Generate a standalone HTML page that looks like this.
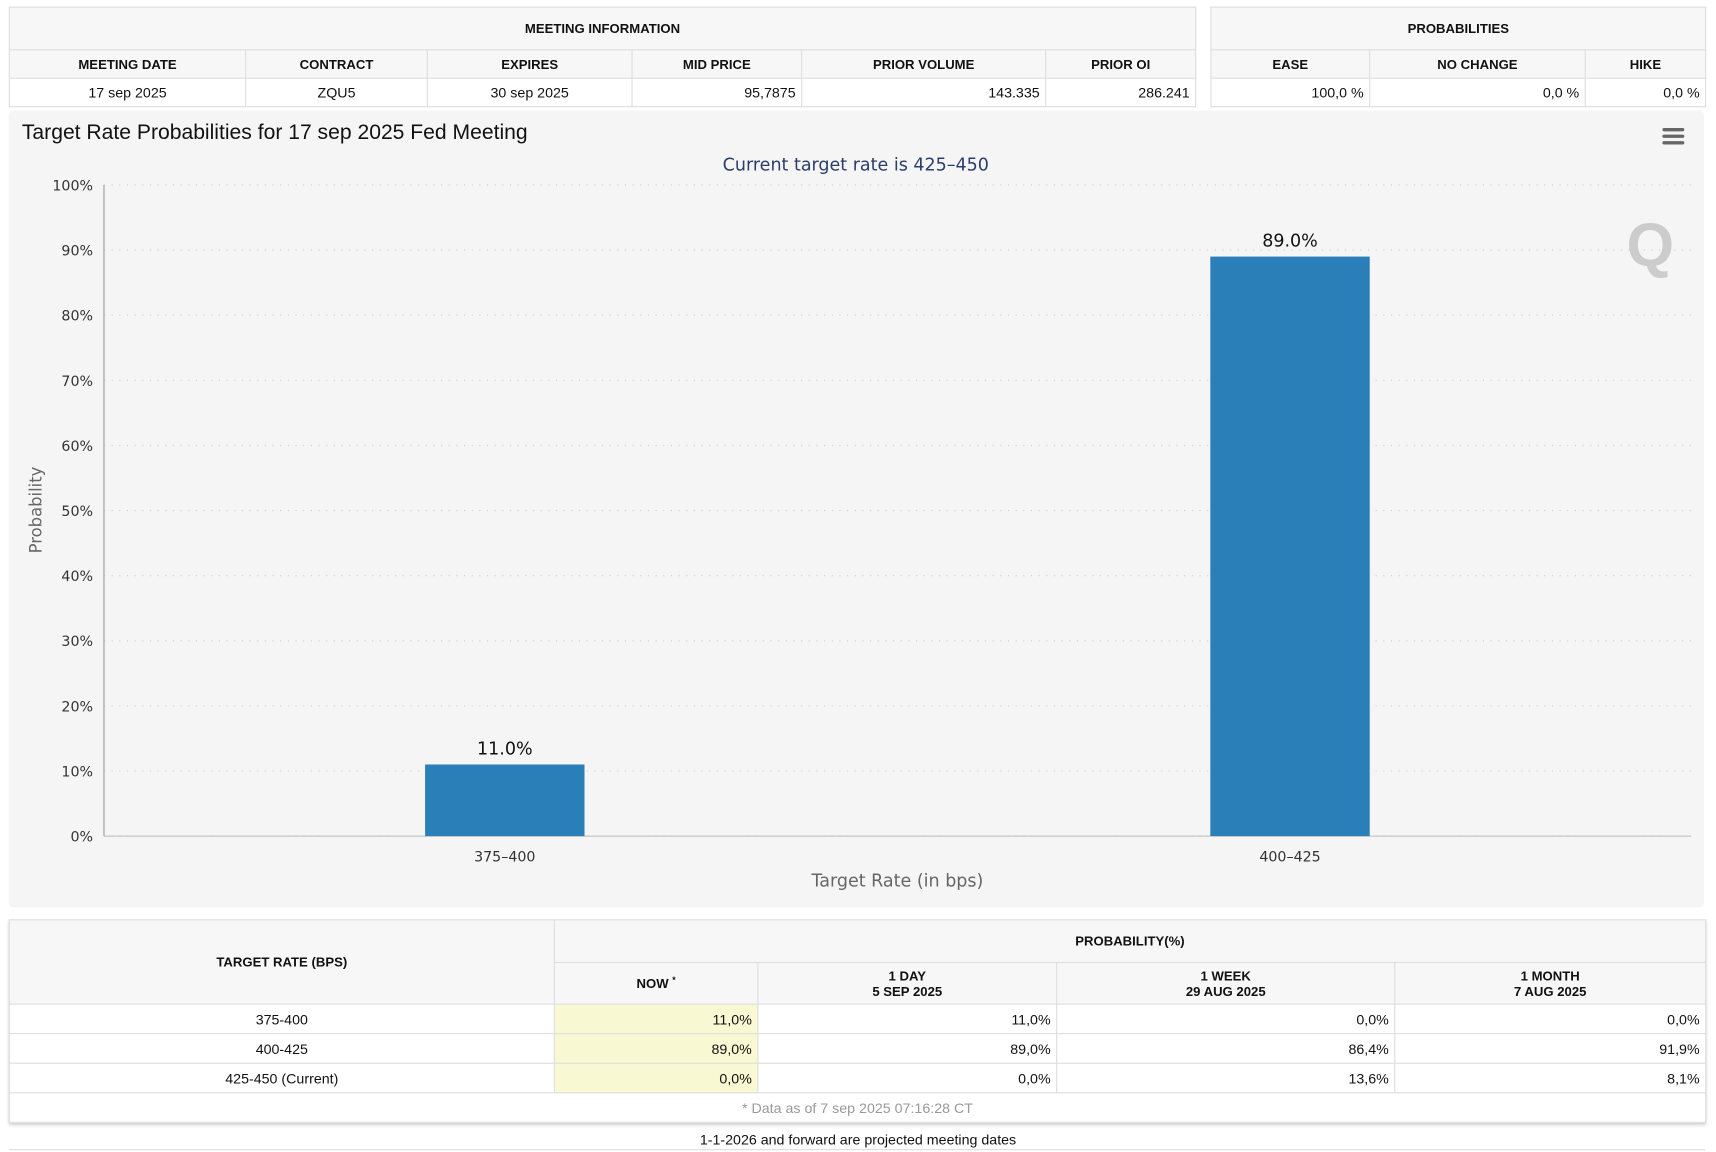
<!DOCTYPE html>
<html><head><meta charset="utf-8"><style>
html,body{margin:0;padding:0;background:#fff;width:1716px;height:1152px;overflow:hidden}
#wrap{position:absolute;left:0;top:0;width:1568px;height:1053px;transform:scale(1.0944);transform-origin:0 0;font-family:"Liberation Sans",Arial,sans-serif;color:#111}
table{border-collapse:collapse;position:absolute;font-size:13px;table-layout:fixed}
td,th{border:1px solid #ddd;padding:0 5px;height:25px}
th{background:#f7f7f7;font-weight:bold;font-size:12px;text-align:center}
.r{text-align:right}.c{text-align:center}
.now{background:#f8f8d2}
#bt td{height:26px}
</style></head><body>
<div id="wrap">
<table style="left:8px;top:6px;width:1085px">
<colgroup><col style="width:216px"><col style="width:166px"><col style="width:187px"><col style="width:155px"><col style="width:223px"><col style="width:137px"></colgroup>
<tr><th colspan="6" style="height:38px">MEETING INFORMATION</th></tr>
<tr><th>MEETING DATE</th><th>CONTRACT</th><th>EXPIRES</th><th>MID PRICE</th><th>PRIOR VOLUME</th><th>PRIOR OI</th></tr>
<tr style="background:#fff"><td class="c">17 sep 2025</td><td class="c">ZQU5</td><td class="c">30 sep 2025</td><td class="r">95,7875</td><td class="r">143.335</td><td class="r">286.241</td></tr>
</table>
<table style="left:1106px;top:6px;width:452px">
<colgroup><col style="width:145px"><col style="width:197px"><col style="width:110px"></colgroup>
<tr><th colspan="3" style="height:38px">PROBABILITIES</th></tr>
<tr><th>EASE</th><th>NO CHANGE</th><th>HIKE</th></tr>
<tr><td class="r">100,0 %</td><td class="r">0,0 %</td><td class="r">0,0 %</td></tr>
</table>
<div style="position:absolute;left:8px;top:101px;width:1549px;height:728px;background:#f5f5f5;border-radius:4px"></div>
<svg id="chart" style="position:absolute;left:0;top:0" width="1568" height="840"></svg>
<table id="bt" style="left:8px;top:840px;width:1550px;box-shadow:0 2px 3px #ccc">
<colgroup><col style="width:498px"><col style="width:186px"><col style="width:273px"><col style="width:309px"><col style="width:284px"></colgroup>
<tr><th rowspan="2">TARGET RATE (BPS)</th><th colspan="4" style="height:38px">PROBABILITY(%)</th></tr>
<tr><th style="height:37px">NOW <sup style="font-size:8px">*</sup></th><th>1 DAY<br>5 SEP 2025</th><th>1 WEEK<br>29 AUG 2025</th><th>1 MONTH<br>7 AUG 2025</th></tr>
<tr><td class="c">375-400</td><td class="r now">11,0%</td><td class="r">11,0%</td><td class="r">0,0%</td><td class="r">0,0%</td></tr>
<tr><td class="c">400-425</td><td class="r now">89,0%</td><td class="r">89,0%</td><td class="r">86,4%</td><td class="r">91,9%</td></tr>
<tr><td class="c">425-450 (Current)</td><td class="r now">0,0%</td><td class="r">0,0%</td><td class="r">13,6%</td><td class="r">8,1%</td></tr>
<tr><td colspan="5" class="c" style="color:#999">* Data as of 7 sep 2025 07:16:28 CT</td></tr>
</table>
<div style="position:absolute;left:0;width:1568px;top:1034px;text-align:center;font-size:13px">1-1-2026 and forward are projected meeting dates</div>
<div style="position:absolute;left:8px;width:1550px;top:1050px;border-top:1px solid #ddd"></div>
</div>
<script>
const categories=["375-400","400-425"];
const values=[11.0,89.0];
const yTicks=[0,10,20,30,40,50,60,70,80,90,100];
const svg=document.getElementById('chart');
const NS='http://www.w3.org/2000/svg';
const L=95,R=1545,T=169,B=764;
const BL=102.5,BR=1537.5;
function y(v){return B-(B-T)*v/100;}
function xc(i){const bw=(BR-BL)/categories.length;return BL+bw*(i+0.5);}
function mk(t,a,txt){const e=document.createElementNS(NS,t);for(const k in a)e.setAttribute(k,a[k]);if(txt!=null)e.textContent=txt;svg.appendChild(e);return e;}
let e;
e=mk('text',{x:20,y:127,'font-size':19.3,fill:'#111','font-family':'Liberation Sans,Arial,sans-serif'},'Target Rate Probabilities for 17 sep 2025 Fed Meeting');

e=mk('text',{x:782,y:156,'font-size':16,fill:'#2b3d6b','text-anchor':'middle','font-family':'DejaVu Sans,sans-serif'},'Current target rate is 425–450');

e=mk('g',{});
for(let k=0;k<3;k++){const r=document.createElementNS(NS,'rect');r.setAttribute('x',1519);r.setAttribute('y',117+k*6);r.setAttribute('width',20);r.setAttribute('height',3);r.setAttribute('rx',1.5);r.setAttribute('fill','#666');e.appendChild(r);}
e=mk('text',{x:1508,y:243,'font-size':56,'font-weight':'bold',fill:'#bbb','text-anchor':'middle','font-family':'Liberation Sans,sans-serif',opacity:0.7},'Q');

yTicks.forEach(t=>{
 e=mk('line',{x1:L,x2:R,y1:y(t),y2:y(t),stroke:'#ccc','stroke-dasharray':'1,6'});
 
 e=mk('text',{x:85,y:y(t)+5,'font-size':13,fill:'#333','text-anchor':'end','font-family':'DejaVu Sans,sans-serif'},t+'%');
 
});
e=mk('line',{x1:L,x2:L,y1:T,y2:B,stroke:'#999'});
e=mk('line',{x1:L,x2:R,y1:B,y2:B,stroke:'#bbb'});
const bw=(BR-BL)/categories.length*0.203;
categories.forEach((c,i)=>{
 e=mk('rect',{x:xc(i)-bw/2,y:y(values[i]),width:bw,height:B-y(values[i]),fill:'#2a7fb8'});
 
 e=mk('text',{x:xc(i),y:y(values[i])-9,'font-size':16,fill:'#111','text-anchor':'middle','font-family':'DejaVu Sans,sans-serif'},values[i].toFixed(1)+'%');
 
 e=mk('text',{x:xc(i),y:787,'font-size':13,fill:'#333','text-anchor':'middle','font-family':'DejaVu Sans,sans-serif'},c.replace('-','–'));
 
});
e=mk('text',{x:820,y:810,'font-size':16,fill:'#666','text-anchor':'middle','font-family':'DejaVu Sans,sans-serif'},'Target Rate (in bps)');

e=mk('text',{x:0,y:0,'font-size':15,fill:'#666','text-anchor':'middle','font-family':'DejaVu Sans,sans-serif',transform:'translate(38,466) rotate(-90)'},'Probability');

</script>
</body></html>
